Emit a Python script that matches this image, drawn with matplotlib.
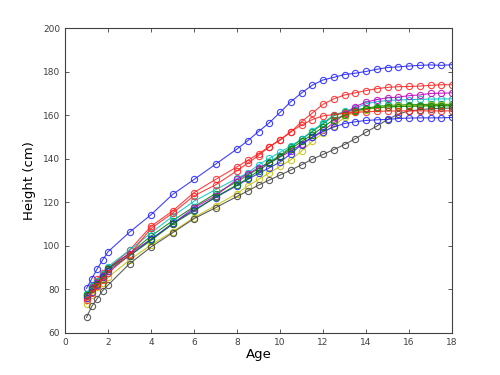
import numpy as np
import matplotlib
matplotlib.use("Agg")
import matplotlib.pyplot as plt

# ages at which heights were measured
age = [1, 1.25, 1.5, 1.75, 2, 3, 4, 5, 6, 7, 8, 8.5, 9, 9.5, 10, 10.5,
       11, 11.5, 12, 12.5, 13, 13.5, 14, 14.5, 15, 15.5, 16, 16.5, 17, 17.5, 18]

# heights (cm), one list per girl
girl01 = [80.5, 85.0, 89.5, 93.5, 97.3, 106.3, 114.3, 123.6, 130.5, 137.5, 144.5, 148.3,
          152.5, 156.5, 161.3, 166.2, 170.2, 173.8, 176.2, 177.4, 178.7, 179.3, 180.1,
          181.1, 181.9, 182.2, 182.6, 182.9, 183.1, 182.9, 183.2]
girl02 = [78.0, 81.0, 83.5, 86.5, 90.0, 96.5, 104.5, 111.5, 118.0, 124.0, 129.5, 132.5,
          135.5, 138.5, 141.5, 145.3, 149.0, 152.5, 156.0, 159.8, 161.3, 162.5, 163.3,
          164.0, 164.5, 164.7, 164.8, 164.9, 165.0, 165.0, 165.0]
girl03 = [77.0, 81.5, 85.0, 87.5, 89.5, 98.0, 109.0, 116.0, 124.5, 130.5, 136.3, 139.3,
          142.3, 145.5, 148.8, 152.2, 157.0, 161.0, 165.0, 167.5, 169.3, 170.3, 171.3,
          172.2, 172.8, 173.1, 173.2, 173.4, 173.7, 174.0, 174.0]
girl04 = [78.0, 81.5, 84.0, 87.0, 90.5, 98.0, 106.0, 113.5, 120.5, 125.8, 131.0, 133.5,
          137.2, 140.2, 143.0, 145.8, 149.0, 152.8, 156.5, 160.0, 161.8, 163.2, 165.3,
          166.2, 166.8, 167.0, 167.2, 167.3, 167.4, 167.5, 167.5]
girl05 = [77.0, 80.5, 83.0, 86.0, 89.5, 96.5, 103.0, 110.0, 117.5, 123.0, 130.5, 133.0,
          135.8, 138.0, 140.8, 143.5, 146.8, 150.0, 153.0, 156.5, 160.5, 164.0, 166.0,
          167.2, 168.0, 168.3, 169.0, 169.3, 170.0, 170.1, 170.3]
girl06 = [73.2, 77.5, 81.0, 83.0, 85.5, 93.5, 100.5, 106.5, 113.0, 118.5, 124.0, 127.5,
          130.5, 133.5, 136.5, 139.5, 143.5, 148.0, 151.8, 155.2, 159.0, 161.5, 162.5,
          163.5, 164.0, 164.2, 164.3, 164.4, 164.5, 164.5, 164.5]
girl07 = [67.2, 72.3, 75.8, 79.5, 82.0, 91.8, 99.5, 106.0, 112.5, 117.5, 122.7, 125.2,
          127.9, 130.2, 132.5, 134.8, 137.2, 139.8, 142.0, 144.2, 146.5, 149.2, 152.2,
          155.0, 158.0, 160.5, 162.0, 162.5, 163.0, 163.2, 163.3]
girl08 = [76.0, 79.0, 82.0, 85.5, 88.5, 95.5, 103.0, 110.3, 116.5, 122.2, 127.7, 130.5,
          133.3, 135.8, 138.5, 142.3, 146.5, 149.8, 152.5, 154.6, 156.2, 157.0, 157.6,
          157.9, 158.1, 158.5, 158.7, 158.8, 158.8, 158.8, 159.0]
girl09 = [77.5, 80.0, 82.5, 85.0, 89.5, 95.5, 102.5, 110.0, 116.0, 122.5, 128.0, 131.0,
          134.5, 138.0, 141.0, 144.5, 148.0, 151.0, 154.5, 158.0, 160.0, 162.0, 163.0,
          163.5, 163.8, 164.0, 164.1, 164.2, 164.3, 164.3, 164.3]
girl10 = [75.0, 78.5, 81.5, 84.5, 87.5, 96.0, 108.0, 115.0, 123.0, 128.0, 134.5, 138.0,
          141.5, 145.5, 148.5, 152.5, 155.5, 158.0, 159.7, 160.3, 160.9, 161.3, 161.6,
          161.8, 161.9, 162.0, 162.0, 162.0, 162.0, 162.0, 162.0]

girls = [girl01, girl02, girl03, girl04, girl05, girl06, girl07, girl08, girl09, girl10]

# old matlab colour order
colors = ['#2020ff', '#008000', '#ff2020', '#00c0c0', '#c000c0',
          '#c0c000', '#404040']

fig = plt.figure(figsize=(5, 3.75), dpi=100)
ax = fig.add_axes([0.13, 0.112, 0.774, 0.813])

for i, h in enumerate(girls):
    c = colors[i % len(colors)]
    ax.plot(age, h, '-o', color=c, lw=0.8, ms=4.5, mfc='none', mew=0.8, alpha=0.85)

ax.set_xlim(0, 18)
ax.set_ylim(60, 200)
ax.set_xticks(np.arange(0, 19, 2))
ax.set_yticks(np.arange(60, 201, 20))
ax.tick_params(direction='in', labelsize=6.5, length=3, width=0.6,
               colors='#404040', top=True, right=True)
for s in ax.spines.values():
    s.set_linewidth(0.8)
    s.set_color('#404040')
ax.set_xlabel('Age', fontsize=9.5, labelpad=1)
ax.set_ylabel('Height (cm)', fontsize=9.5, labelpad=5)

fig.savefig('out.png', dpi=100)
